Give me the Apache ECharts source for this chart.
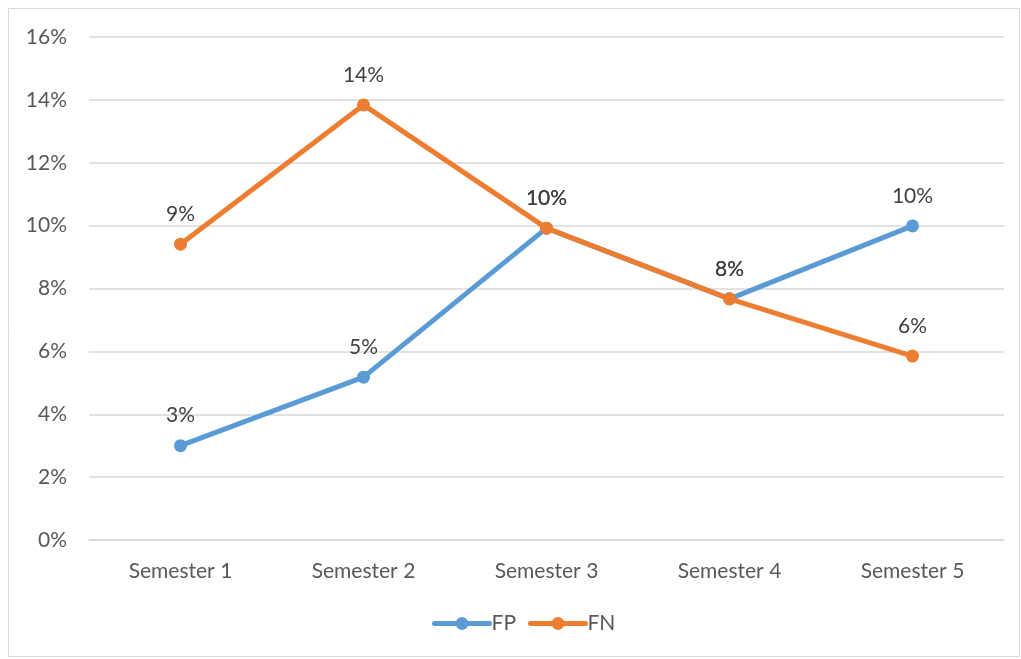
<!DOCTYPE html>
<html>
<head>
<meta charset="utf-8">
<script src="https://cdn.jsdelivr.net/npm/echarts@6/dist/echarts.min.js"></script>
<style>
html,body{margin:0;padding:0;background:#fff;}
#chart{width:1021px;height:659px;}
</style>
</head>
<body>
<div id="chart"></div>
<script>
// Semester categories and error rates (in %)
const categories = ['Semester 1', 'Semester 2', 'Semester 3', 'Semester 4', 'Semester 5'];
const fpValues = [3.0, 5.18, 9.92, 7.67, 9.99];
const fnValues = [9.41, 13.84, 9.92, 7.67, 5.85];
const yTicks = { min: 0, max: 16, interval: 2 };

const FONT = 'Lato, "Open Sans", sans-serif';
const FS = 21;
const chart = echarts.init(document.getElementById('chart'));

function lineSeries(name, data, color, z) {
  return {
    name: name,
    type: 'line',
    data: data,
    z: z,
    symbol: 'circle',
    symbolSize: 13,
    lineStyle: { width: 5, color: color, cap: 'round' },
    itemStyle: { color: color },
    label: {
      show: true,
      position: 'top',
      distance: 13,
      color: '#404040',
      fontFamily: FONT,
      fontSize: FS,
      formatter: p => Math.round(p.value) + '%'
    }
  };
}

chart.setOption({
  animation: false,
  backgroundColor: '#fff',
  graphic: [{
    type: 'rect',
    shape: { x: 8.5, y: 8.5, width: 1011, height: 648 },
    style: { fill: 'none', stroke: '#d9d9d9', lineWidth: 1 },
    silent: true
  }],
  grid: { left: 89, right: 17, top: 37, bottom: 119, containLabel: false },
  legend: {
    bottom: 20,
    left: 427,
    itemWidth: 55,
    itemHeight: 16,
    itemGap: 12,
    lineStyle: { width: 5 },
    textStyle: { color: '#595959', fontFamily: FONT, fontSize: FS, padding: [0, 0, 0, -3] },
    data: ['FP', 'FN']
  },
  xAxis: {
    type: 'category',
    data: categories,
    boundaryGap: true,
    axisLine: { show: true, lineStyle: { color: '#d9d9d9', width: 1.5 } },
    axisTick: { show: false },
    axisLabel: { color: '#595959', fontFamily: FONT, fontSize: FS, margin: 21 }
  },
  yAxis: {
    type: 'value',
    min: yTicks.min,
    max: yTicks.max,
    interval: yTicks.interval,
    axisLine: { show: false },
    axisTick: { show: false },
    splitLine: { lineStyle: { color: '#d9d9d9', width: 1.5 } },
    axisLabel: { color: '#595959', fontFamily: FONT, fontSize: FS, margin: 22, formatter: v => v + '%' }
  },
  series: [
    lineSeries('FP', fpValues, '#5b9bd5', 2),
    lineSeries('FN', fnValues, '#ed7d31', 3)
  ]
});
</script>
</body>
</html>
